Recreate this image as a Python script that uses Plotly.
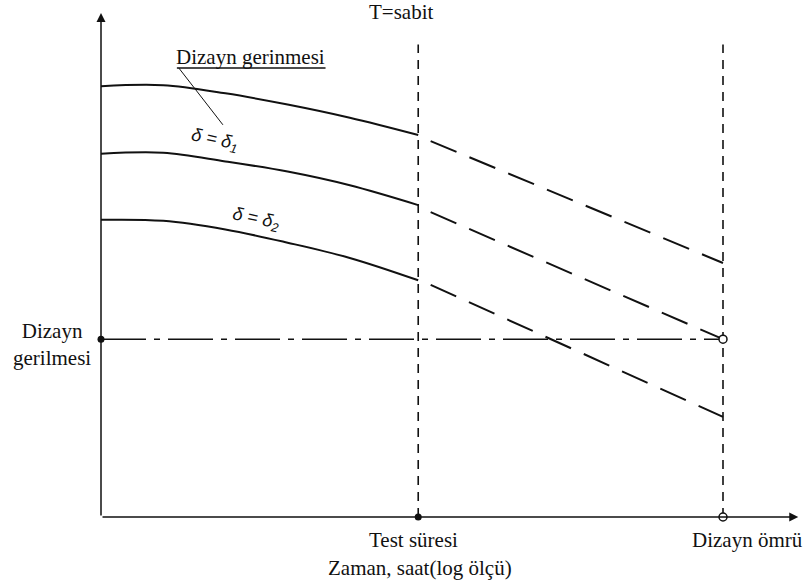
import plotly.graph_objects as go

# ---- data (schematic units: time on log scale, stress) ----
t_solid = [0, 10, 20, 30, 40, 51]
strain_hi = [84.8, 85.0, 83.4, 81.2, 78.6, 75.2]      # Dizayn gerinmesi
strain_d1 = [71.5, 71.7, 70.0, 68.0, 65.3, 61.4]      # δ = δ1
strain_d2 = [58.5, 58.3, 56.6, 54.0, 51.0, 46.6]      # δ = δ2

t_ext = [53, 100]
ext_hi = [74.0, 50.0]
ext_d1 = [60.0, 35.0]
ext_d2 = [45.7, 19.7]

test_time = 51
design_life = 100
design_stress = 35
guide_top = 93

x_tip = 112.1
y_tip = 99.2

# pixel mapping parameters
PX_X, PX_Y = 6.22, 5.08
X0, Y0 = 101, 517
W, H = 808, 587
xr = [-X0 / PX_X, (W - X0) / PX_X]
yr = [(Y0 - H) / PX_Y, Y0 / PX_Y]

SERIF = "Liberation Serif"
black = "#111111"

fig = go.Figure()

def line(x, y, dash="solid", width=2.0, shape="linear"):
    fig.add_trace(go.Scatter(x=x, y=y, mode="lines",
                             line=dict(color=black, width=width, dash=dash, shape=shape),
                             hoverinfo="skip", showlegend=False))

# vertical guide lines
line([test_time, test_time], [0, guide_top], dash="9px,7px", width=1.6)
line([design_life, design_life], [0, guide_top], dash="9px,7px", width=1.6)
# design stress dash-dot line
line([0, design_life], [design_stress, design_stress], dash="45px,8px,6px,8px", width=1.4)

# solid curves
for ys in (strain_hi, strain_d1, strain_d2):
    line(t_solid, ys, width=2.0, shape="spline")
# dashed extrapolations
for ys in (ext_hi, ext_d1, ext_d2):
    line(t_ext, ys, dash="28px,14px", width=2.0)

# label underline and leader
line([12.2, 36.1], [88.4, 88.4], width=1.4)
line([12.5, 19.6], [88.4, 77.2], width=1.0)

# markers
fig.add_trace(go.Scatter(x=[0, test_time], y=[design_stress, 0], mode="markers",
                         marker=dict(color=black, size=7), hoverinfo="skip", showlegend=False))
fig.add_trace(go.Scatter(x=[design_life, design_life], y=[design_stress, 0], mode="markers",
                         marker=dict(color="white", size=8, line=dict(color=black, width=1.5)),
                         hoverinfo="skip", showlegend=False))

# axes with arrows
fig.add_annotation(x=0, y=y_tip, ax=0, ay=0, xref="x", yref="y", axref="x", ayref="y",
                   text="", showarrow=True, arrowhead=2, arrowsize=1.2, arrowwidth=1.5,
                   arrowcolor=black)
fig.add_annotation(x=x_tip, y=0, ax=0, ay=0, xref="x", yref="y", axref="x", ayref="y",
                   text="", showarrow=True, arrowhead=2, arrowsize=1.2, arrowwidth=1.5,
                   arrowcolor=black)

def txt(x, y, s, size=21, family=SERIF, angle=0, xanchor="center"):
    fig.add_annotation(x=x, y=y, xref="x", yref="y", text=s, showarrow=False,
                       font=dict(family=family, size=size, color=black),
                       textangle=angle, xanchor=xanchor, yanchor="middle")

txt(48.3, 99.4, "T=sabit")
txt(24.1, 90.6, "Dizayn gerinmesi")
txt(-7.9, 34.0, "Dizayn<br>gerilmesi")
txt(50.2, -4.6, "Test süresi")
txt(51.3, -10.1, "Zaman, saat(log ölçü)")
txt(104.0, -4.6, "Dizayn ömrü")
txt(18.3, 74.2, "<i>δ = δ<sub>1</sub></i>", size=18, family="Liberation Sans", angle=12)
txt(24.9, 58.5, "<i>δ = δ<sub>2</sub></i>", size=18, family="Liberation Sans", angle=12)

fig.update_layout(width=W, height=H, margin=dict(l=0, r=0, t=0, b=0),
                  paper_bgcolor="white", plot_bgcolor="white",
                  xaxis=dict(range=xr, visible=False, fixedrange=True),
                  yaxis=dict(range=yr, visible=False, fixedrange=True),
                  showlegend=False)

fig.write_html("out.html")
